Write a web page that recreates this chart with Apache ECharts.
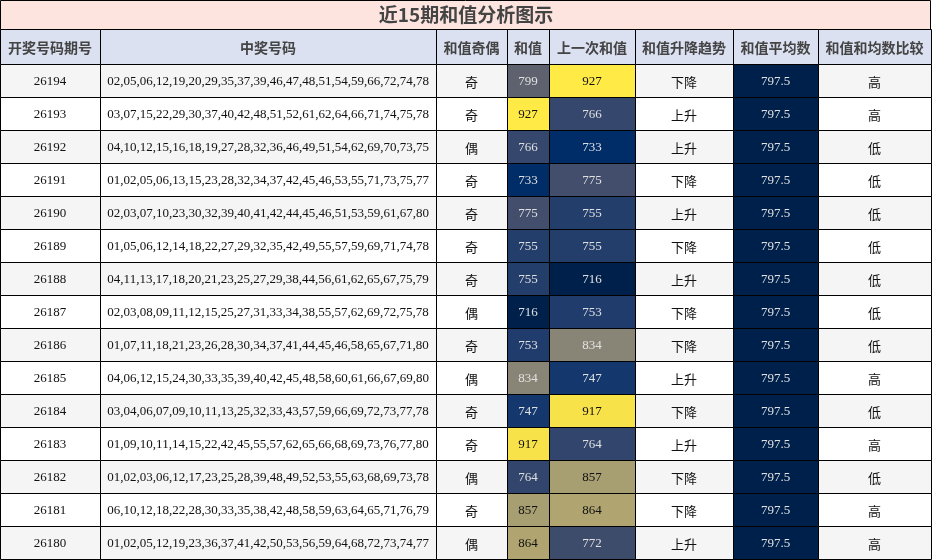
<!DOCTYPE html>
<html>
<head>
<meta charset="utf-8">
<script src="https://cdn.jsdelivr.net/npm/echarts@6/dist/echarts.min.js"></script>
<style>html,body{margin:0;padding:0;background:#fff}#main{width:932px;height:560px}</style>
</head>
<body>
<div id="main"></div>
<script>
var headers = ['开奖号码期号', '中奖号码', '和值奇偶', '和值', '上一次和值', '和值升降趋势', '和值平均数', '和值和均数比较'];
var periods = ['26194','26193','26192','26191','26190','26189','26188','26187','26186','26185','26184','26183','26182','26181','26180'];
var numbers = [
  '02,05,06,12,19,20,29,35,37,39,46,47,48,51,54,59,66,72,74,78',
  '03,07,15,22,29,30,37,40,42,48,51,52,61,62,64,66,71,74,75,78',
  '04,10,12,15,16,18,19,27,28,32,36,46,49,51,54,62,69,70,73,75',
  '01,02,05,06,13,15,23,28,32,34,37,42,45,46,53,55,71,73,75,77',
  '02,03,07,10,23,30,32,39,40,41,42,44,45,46,51,53,59,61,67,80',
  '01,05,06,12,14,18,22,27,29,32,35,42,49,55,57,59,69,71,74,78',
  '04,11,13,17,18,20,21,23,25,27,29,38,44,56,61,62,65,67,75,79',
  '02,03,08,09,11,12,15,25,27,31,33,34,38,55,57,62,69,72,75,78',
  '01,07,11,18,21,23,26,28,30,34,37,41,44,45,46,58,65,67,71,80',
  '04,06,12,15,24,30,33,35,39,40,42,45,48,58,60,61,66,67,69,80',
  '03,04,06,07,09,10,11,13,25,32,33,43,57,59,66,69,72,73,77,78',
  '01,09,10,11,14,15,22,42,45,55,57,62,65,66,68,69,73,76,77,80',
  '01,02,03,06,12,17,23,25,28,39,48,49,52,53,55,63,68,69,73,78',
  '06,10,12,18,22,28,30,33,35,38,42,48,58,59,63,64,65,71,76,79',
  '01,02,05,12,19,23,36,37,41,42,50,53,56,59,64,68,72,73,74,77'
];
var parity = ['奇','奇','偶','奇','奇','奇','奇','偶','奇','偶','奇','奇','偶','奇','偶'];
var sums = [799,927,766,733,775,755,755,716,753,834,747,917,764,857,864];
var prevSums = [927,766,733,775,755,755,716,753,834,747,917,764,857,864,772];
var trend = ['下降','上升','上升','下降','上升','下降','上升','下降','下降','上升','下降','上升','下降','下降','上升'];
var avgs = [797.5,797.5,797.5,797.5,797.5,797.5,797.5,797.5,797.5,797.5,797.5,797.5,797.5,797.5,797.5];
var compare = ['高','高','低','低','低','低','低','低','低','高','低','高','低','高','高'];

// layout constants
var COL_EDGES = [0, 100, 436, 507, 549, 635, 733, 818, 931];
var TITLE_H = 29, HEAD_H = 35;
var CIVIDIS = ['#00204c','#00306f','#2a406c','#48526b','#5f636e','#797775','#948e77','#b0a570','#d1be63','#f0d94e','#ffea46'];
var vMin = Math.min.apply(null, sums.concat(prevSums));
var vMax = Math.max.apply(null, sums.concat(prevSums));

function valColor(v) {
  return echarts.color.lerp((v - vMin) / (vMax - vMin), CIVIDIS);
}
function isDark(c) {
  var p = echarts.color.parse(c);
  return (0.299 * p[0] + 0.587 * p[1] + 0.114 * p[2]) < 150;
}

var cells = [];
periods.forEach(function (p, r) {
  var vals = [p, numbers[r], parity[r], sums[r], prevSums[r], trend[r], avgs[r], compare[r]];
  vals.forEach(function (v, c) { cells.push([c, r, String(v)]); });
});

var myChart = echarts.init(document.getElementById('main'));

var headerGraphics = [{
  type: 'rect', shape: { x: 0.5, y: 0.5, width: 930, height: TITLE_H },
  style: { fill: '#fde4df', stroke: '#000', lineWidth: 1 }
}, {
  type: 'text', x: 466, y: 15,
  style: { text: '近15期和值分析图示', fill: '#444', font: 'bold 19px "Noto Sans CJK SC"', align: 'center', verticalAlign: 'middle' }
}];
headers.forEach(function (h, c) {
  headerGraphics.push({
    type: 'rect', shape: { x: COL_EDGES[c] + 0.5, y: TITLE_H + 0.5, width: COL_EDGES[c + 1] - COL_EDGES[c], height: HEAD_H },
    style: { fill: '#dce1f2', stroke: '#000', lineWidth: 1 }
  });
  headerGraphics.push({
    type: 'text', x: (COL_EDGES[c] + COL_EDGES[c + 1]) / 2, y: TITLE_H + HEAD_H / 2 + 1,
    style: { text: h, fill: '#444', font: 'bold 14px "Noto Sans CJK SC"', align: 'center', verticalAlign: 'middle' }
  });
});

var option = {
  animation: false,
  grid: { left: 0, right: 0, top: TITLE_H + HEAD_H, bottom: 1 },
  xAxis: { type: 'value', min: 0, max: 932, show: false },
  yAxis: { type: 'category', data: periods, inverse: true, show: false },
  graphic: headerGraphics,
  series: [{
    type: 'custom',
    data: cells,
    renderItem: function (params, api) {
      var c = api.value(0), r = api.value(1), txt = cells[params.dataIndex][2];
      var p0 = api.coord([COL_EDGES[c], r]);
      var p1 = api.coord([COL_EDGES[c + 1], r]);
      var h = api.size([0, 1])[1];
      var fill = r % 2 === 0 ? '#f5f5f5' : '#ffffff';
      var color = '#111';
      var font = '13px "Liberation Serif"';
      var cjk = (c === 2 || c === 5 || c === 7);
      if (c === 3 || c === 4) { fill = valColor(Number(txt)); color = isDark(fill) ? '#e0e0e0' : '#111'; }
      if (c === 6) { fill = CIVIDIS[0]; color = '#e0e0e0'; }
      if (cjk) font = '13px "Noto Sans CJK SC"';
      return {
        type: 'group',
        children: [{
          type: 'rect',
          shape: { x: p0[0] + 0.5, y: p0[1] - h / 2 + 0.5, width: p1[0] - p0[0], height: h },
          style: { fill: fill, stroke: '#000', lineWidth: 1 }
        }, {
          type: 'text', x: (p0[0] + p1[0]) / 2, y: p0[1] + (cjk ? 2 : 1),
          style: { text: txt, fill: color, font: font, align: 'center', verticalAlign: 'middle' }
        }]
      };
    }
  }]
};
myChart.setOption(option);
</script>
</body>
</html>
